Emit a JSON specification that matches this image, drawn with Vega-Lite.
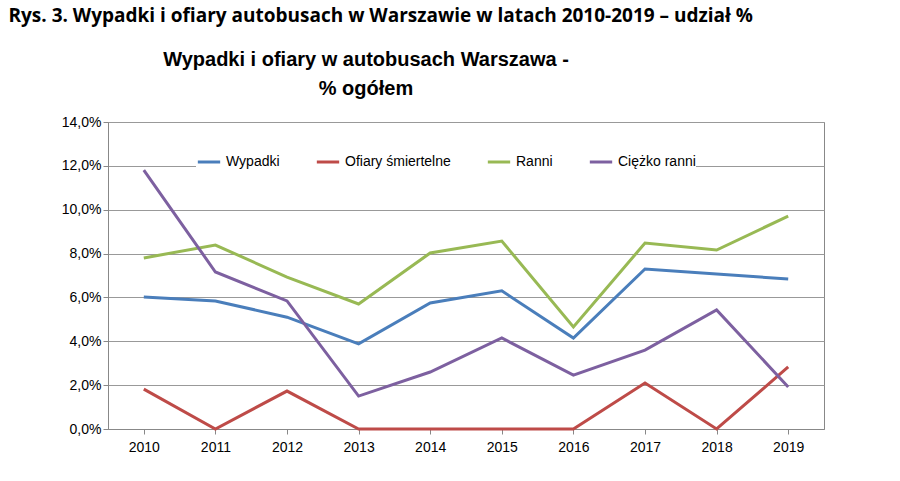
{
"$schema":"https://vega.github.io/schema/vega-lite/v6.json",
"background":"white",
"padding":{"left":8,"top":6,"right":10,"bottom":5},
"title":{"text":"Rys. 3. Wypadki i ofiary autobusach w Warszawie w latach 2010-2019 – udział %","anchor":"start","font":"Open Sans","fontSize":19,"fontWeight":"bold","color":"black","offset":24},
"config":{"locale":{"number":{"decimal":",","thousands":" ","grouping":[3],"currency":["","zł"]}},"view":{"stroke":"#888"},"font":"Liberation Sans"},
"vconcat":[{
"width":716,"height":307,
"title":{"text":["Wypadki i ofiary w autobusach Warszawa -","%  ogółem"],"fontSize":20,"fontWeight":"bold","font":"Liberation Sans","color":"black","lineHeight":29,"offset":16,"dx":-100},
"data":{"values":[
{"rok":"2010","s":"Wypadki","v":0.0602},{"rok":"2011","s":"Wypadki","v":0.0584},{"rok":"2012","s":"Wypadki","v":0.051},{"rok":"2013","s":"Wypadki","v":0.0388},{"rok":"2014","s":"Wypadki","v":0.0575},{"rok":"2015","s":"Wypadki","v":0.063},{"rok":"2016","s":"Wypadki","v":0.0415},{"rok":"2017","s":"Wypadki","v":0.073},{"rok":"2018","s":"Wypadki","v":0.0707},{"rok":"2019","s":"Wypadki","v":0.0684},
{"rok":"2010","s":"Ofiary śmiertelne","v":0.0182},{"rok":"2011","s":"Ofiary śmiertelne","v":0},{"rok":"2012","s":"Ofiary śmiertelne","v":0.0173},{"rok":"2013","s":"Ofiary śmiertelne","v":0},{"rok":"2014","s":"Ofiary śmiertelne","v":0},{"rok":"2015","s":"Ofiary śmiertelne","v":0},{"rok":"2016","s":"Ofiary śmiertelne","v":0},{"rok":"2017","s":"Ofiary śmiertelne","v":0.021},{"rok":"2018","s":"Ofiary śmiertelne","v":0},{"rok":"2019","s":"Ofiary śmiertelne","v":0.0283},
{"rok":"2010","s":"Ranni","v":0.078},{"rok":"2011","s":"Ranni","v":0.0839},{"rok":"2012","s":"Ranni","v":0.0693},{"rok":"2013","s":"Ranni","v":0.057},{"rok":"2014","s":"Ranni","v":0.0803},{"rok":"2015","s":"Ranni","v":0.0857},{"rok":"2016","s":"Ranni","v":0.0465},{"rok":"2017","s":"Ranni","v":0.0848},{"rok":"2018","s":"Ranni","v":0.0816},{"rok":"2019","s":"Ranni","v":0.0971},
{"rok":"2010","s":"Ciężko ranni","v":0.1181},{"rok":"2011","s":"Ciężko ranni","v":0.0716},{"rok":"2012","s":"Ciężko ranni","v":0.0584},{"rok":"2013","s":"Ciężko ranni","v":0.015},{"rok":"2014","s":"Ciężko ranni","v":0.026},{"rok":"2015","s":"Ciężko ranni","v":0.0415},{"rok":"2016","s":"Ciężko ranni","v":0.0246},{"rok":"2017","s":"Ciężko ranni","v":0.036},{"rok":"2018","s":"Ciężko ranni","v":0.0543},{"rok":"2019","s":"Ciężko ranni","v":0.0192}
]},
"mark":{"type":"line","strokeWidth":3},
"encoding":{
"x":{"field":"rok","type":"ordinal","title":null,"scale":{"type":"point","padding":0.5},"axis":{"labelAngle":0,"labelFontSize":14,"labelColor":"black","grid":false,"domainColor":"#888","tickColor":"#888","labelPadding":6}},
"y":{"field":"v","type":"quantitative","title":null,"scale":{"domain":[0,0.14]},"axis":{"values":[0,0.02,0.04,0.06,0.08,0.1,0.12,0.14],"format":".1%","labelFontSize":14,"labelColor":"black","gridColor":"#999","domainColor":"#888","tickColor":"#888","minExtent":99}},
"color":{"field":"s","type":"nominal","sort":["Wypadki","Ofiary śmiertelne","Ranni","Ciężko ranni"],"scale":{"domain":["Wypadki","Ofiary śmiertelne","Ranni","Ciężko ranni"],"range":["#4a7ebb","#be4b48","#98b954","#7d60a0"]},
"legend":{"title":null,"orient":"none","legendX":88,"legendY":27,"direction":"horizontal","symbolType":"stroke","symbolStrokeWidth":3,"symbolSize":500,"labelFontSize":14,"labelColor":"black","columnPadding":30,"fillColor":"white"}}
}}]
}
